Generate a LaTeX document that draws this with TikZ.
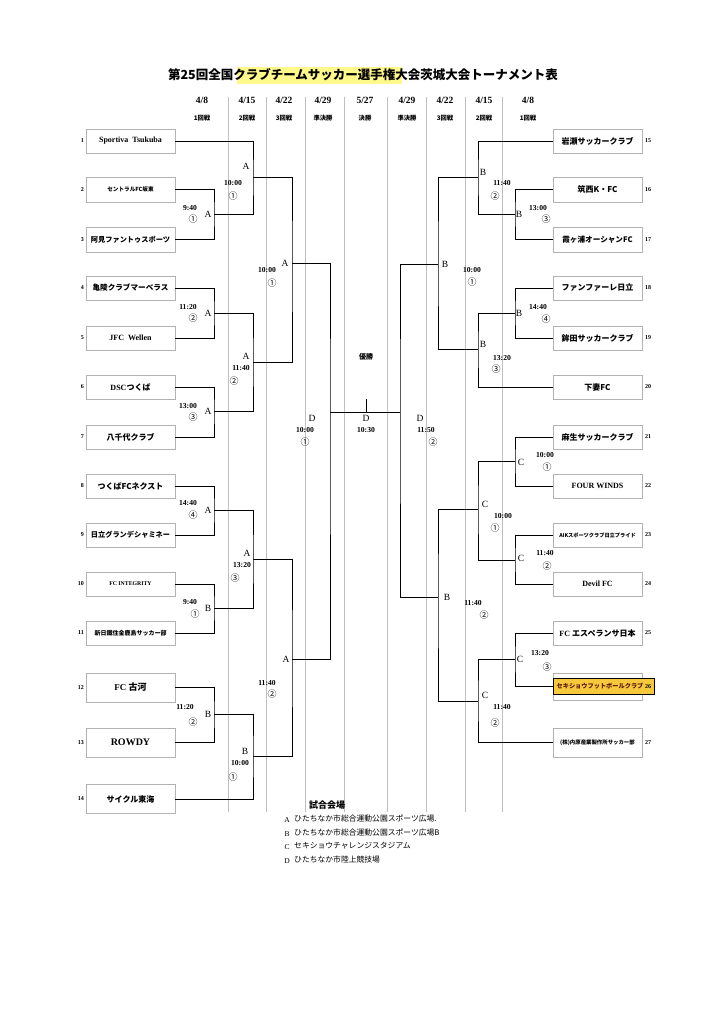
\documentclass[tikz,border=0pt]{standalone}
\usepackage{fontspec}
\setmainfont{Liberation Serif}
\newfontfamily\cjk{Noto Sans CJK JP}
\newcommand\J[1]{{\cjk #1}}
\begin{document}
\begin{tikzpicture}[x=1pt,y=-1pt,
  team/.style={draw=gray!60, line width=0.5pt, minimum width=89pt, minimum height=24.5pt, inner sep=0pt, fill=white, font=\fontsize{8}{9}\selectfont\bfseries},
  tall/.style={minimum height=29pt},
  conn/.style={line width=0.85pt, black},
  sepline/.style={draw=gray!50, line width=0.6pt},
  tm/.style={font=\fontsize{7.6}{8}\selectfont\bfseries, inner sep=0pt},
  ci/.style={font=\cjk\fontsize{9}{9}\selectfont, inner sep=0pt},
  lt/.style={font=\fontsize{9.5}{10}\selectfont, inner sep=0pt},
  num/.style={font=\fontsize{6}{6}\selectfont\bfseries, inner sep=0pt},
  date/.style={font=\fontsize{9.5}{10}\selectfont\bfseries, inner sep=0pt},
  rnd/.style={font=\cjk\fontsize{6.3}{7}\selectfont\bfseries, inner sep=0pt},
  leg/.style={font=\cjk\fontsize{7.8}{8}\selectfont, inner sep=0pt, anchor=west},
  legl/.style={font=\fontsize{7.5}{8}\selectfont, inner sep=0pt}
]
\useasboundingbox (0,0) rectangle (720,1018);
\fill[white] (0,0) rectangle (720,1018);

% title
\fill[yellow!45] (237,67) rectangle (402,84);
\node[inner sep=0pt, font=\cjk\fontsize{12.5}{13}\selectfont\bfseries] (title) at (363,75) {第25回全国クラブチームサッカー選手権大会茨城大会トーナメント表};

% column separators
\foreach \x in {228,266,305,344,387,426,465,502} \draw[sepline] (\x,97) -- (\x,812);

% header
\node[date] (d1) at (202,100) {4/8};
\node[date] (d2) at (247,100) {4/15};
\node[date] (d3) at (284,100) {4/22};
\node[date] (d4) at (323,100) {4/29};
\node[date] (d5) at (365,100) {5/27};
\node[date] (d6) at (407,100) {4/29};
\node[date] (d7) at (445,100) {4/22};
\node[date] (d8) at (484,100) {4/15};
\node[date] (d9) at (528,100) {4/8};
\node[rnd] (r1) at (202,118) {1回戦};
\node[rnd] (r2) at (247,118) {2回戦};
\node[rnd] (r3) at (284,118) {3回戦};
\node[rnd] (r4) at (323,118) {準決勝};
\node[rnd] (r5) at (365,118) {決勝};
\node[rnd] (r6) at (407,118) {準決勝};
\node[rnd] (r7) at (445,118) {3回戦};
\node[rnd] (r8) at (484,118) {2回戦};
\node[rnd] (r9) at (528,118) {1回戦};

% left teams
\node[team] (t1) at (130.5,141) {Sportiva\ \ Tsukuba};
\node[team] (t2) at (130.5,189.5) {\J{\fontsize{5.6}{6}\selectfont セントラルFC坂東}};
\node[team] (t3) at (130.5,239.5) {\J{\fontsize{7.2}{8}\selectfont 阿見ファントゥスポーツ}};
\node[team] (t4) at (130.5,288) {\J{\fontsize{7.6}{8}\selectfont 亀陵クラブマーベラス}};
\node[team] (t5) at (130.5,338) {JFC\ \ Wellen};
\node[team] (t6) at (130.5,387) {DSC\J{つくば}};
\node[team] (t7) at (130.5,437) {\J{八千代クラブ}};
\node[team] (t8) at (130.5,486) {\J{つくばFCネクスト}};
\node[team] (t9) at (130.5,535) {\J{\fontsize{7.2}{8}\selectfont 日立グランデシャミネー}};
\node[team] (t10) at (130.5,584) {\fontsize{5.8}{6}\selectfont FC INTEGRITY};
\node[team] (t11) at (130.5,633) {\J{\fontsize{6}{6}\selectfont 新日鐵住金鹿島サッカー部}};
\node[team,tall] (t12) at (130.5,687.5) {\fontsize{9}{9}\selectfont FC \J{古河}};
\node[team,tall] (t13) at (130.5,742.5) {\fontsize{10}{10}\selectfont ROWDY};
\node[team,tall] (t14) at (130.5,799) {\J{サイクル東海}};
\foreach \i/\y in {1/141,2/189.5,3/239.5,4/288,5/338,6/387,7/437,8/486,9/535,10/584,11/633,12/687.5,13/742.5,14/799}
  \node[num,anchor=east] (n\i) at (84,\y) {\i};

% right teams
\node[team] (t15) at (597.5,141) {\J{岩瀬サッカークラブ}};
\node[team] (t16) at (597.5,189.5) {\J{筑西K・FC}};
\node[team] (t17) at (597.5,239.5) {\J{\fontsize{7.6}{8}\selectfont 霞ヶ浦オーシャンFC}};
\node[team] (t18) at (597.5,288) {\J{ファンファーレ日立}};
\node[team] (t19) at (597.5,338) {\J{鉾田サッカークラブ}};
\node[team] (t20) at (597.5,387) {\J{下妻FC}};
\node[team] (t21) at (597.5,437) {\J{麻生サッカークラブ}};
\node[team] (t22) at (597.5,486) {FOUR WINDS};
\node[team] (t23) at (597.5,535) {\J{\fontsize{5.2}{6}\selectfont AIKスポーツクラブ日立プライド}};
\node[team] (t24) at (597.5,584) {Devil FC};
\node[team] (t25) at (597.5,633) {FC \J{エスペランサ日本}};
\node[team,minimum height=27pt] (t26) at (597.5,686.5) {};
\node[team,tall] (t27) at (597.5,742.5) {\J{\fontsize{5.4}{6}\selectfont (株)内原産業製作所サッカー部}};
\node[draw=black, line width=1.3pt, fill={rgb,255:red,246;green,200;blue,60}, minimum width=101pt, minimum height=16pt, inner sep=0pt] (hl) at (604,686.5) {};
\node[inner sep=0pt, text={rgb,255:red,90;green,25;blue,10}, font=\cjk\fontsize{6.2}{7}\selectfont\bfseries] (hlt) at (600,686.5) {セキショウフットボールクラブ};
\foreach \i/\y in {15/141,16/189.5,17/239.5,18/288,19/338,20/387,21/437,22/486,23/535,24/584,25/633,26/686.5,27/742.5}
  \node[num,anchor=west] (n\i) at (645,\y) {\i};

% junctions
\coordinate (L1a) at (214,214);
\coordinate (L1b) at (214,313);
\coordinate (L1c) at (214,411);
\coordinate (L1d) at (214,510);
\coordinate (L1e) at (214,608);
\coordinate (L1f) at (214,714);
\coordinate (L2a) at (253,177);
\coordinate (L2b) at (253,362);
\coordinate (L2c) at (253,559);
\coordinate (L2d) at (253,756);
\coordinate (L3a) at (292,263);
\coordinate (L3b) at (292,659);
\coordinate (LS) at (330,412);
\coordinate (RS) at (400,412);
\coordinate (FIN) at (366,412);
\coordinate (CH) at (366,399);
\coordinate (R1a) at (515,214);
\coordinate (R1b) at (515,313);
\coordinate (R1c) at (515,461);
\coordinate (R1d) at (515,560);
\coordinate (R1e) at (515,659);
\coordinate (R2a) at (478,177);
\coordinate (R2b) at (478,349);
\coordinate (R2c) at (478,509);
\coordinate (R2d) at (478,701);
\coordinate (R3a) at (438,264);
\coordinate (R3b) at (438,597);

% connectors left
\draw[conn] (t2.east) -| (L1a) |- (t3.east);
\draw[conn] (t4.east) -| (L1b) |- (t5.east);
\draw[conn] (t6.east) -| (L1c) |- (t7.east);
\draw[conn] (t8.east) -| (L1d) |- (t9.east);
\draw[conn] (t10.east) -| (L1e) |- (t11.east);
\draw[conn] (t12.east) -| (L1f) |- (t13.east);
\draw[conn] (t1.east) -| (L2a) |- (L1a);
\draw[conn] (L1b) -| (L2b) |- (L1c);
\draw[conn] (L1d) -| (L2c) |- (L1e);
\draw[conn] (L1f) -| (L2d) |- (t14.east);
\draw[conn] (L2a) -| (L3a) |- (L2b);
\draw[conn] (L2c) -| (L3b) |- (L2d);
\draw[conn] (L3a) -| (LS) |- (L3b);
\draw[conn] (LS) -- (RS);
\draw[conn] (FIN) -- (CH);
% connectors right
\draw[conn] (t16.west) -| (R1a) |- (t17.west);
\draw[conn] (t18.west) -| (R1b) |- (t19.west);
\draw[conn] (t21.west) -| (R1c) |- (t22.west);
\draw[conn] (t23.west) -| (R1d) |- (t24.west);
\draw[conn] (t25.west) -| (R1e) |- (hl.west);
\draw[conn] (t15.west) -| (R2a) |- (R1a);
\draw[conn] (R1b) -| (R2b) |- (t20.west);
\draw[conn] (R1c) -| (R2c) |- (R1d);
\draw[conn] (R1e) -| (R2d) |- (t27.west);
\draw[conn] (R2a) -| (R3a) |- (R2b);
\draw[conn] (R2c) -| (R3b) |- (R2d);
\draw[conn] (R3a) -| (RS) |- (R3b);

% labels left
\node[tm] (a1) at (190,208) {9:40}; \node[ci] (b1) at (193,219) {①}; \node[lt] (c1) at (208,214) {A};
\node[tm] (a2) at (188,307) {11:20}; \node[ci] (b2) at (193,318) {②}; \node[lt] (c2) at (208,313) {A};
\node[tm] (a3) at (188,406) {13:00}; \node[ci] (b3) at (193,417) {③}; \node[lt] (c3) at (208,411) {A};
\node[tm] (a4) at (188,503) {14:40}; \node[ci] (b4) at (193,515) {④}; \node[lt] (c4) at (208,510) {A};
\node[tm] (a5) at (190,602) {9:40}; \node[ci] (b5) at (195,614) {①}; \node[lt] (c5) at (208,608) {B};
\node[tm] (a6) at (185,707) {11:20}; \node[ci] (b6) at (193,722) {②}; \node[lt] (c6) at (208,714) {B};
\node[lt] (c7) at (246,166) {A}; \node[tm] (a7) at (233,183) {10:00}; \node[ci] (b7) at (233,196) {①};
\node[lt] (c8) at (246,356) {A}; \node[tm] (a8) at (241,368) {11:40}; \node[ci] (b8) at (234,381) {②};
\node[lt] (c9) at (247,553) {A}; \node[tm] (a9) at (242,565) {13:20}; \node[ci] (b9) at (235,578) {③};
\node[lt] (c10) at (245,751) {B}; \node[tm] (a10) at (240,763) {10:00}; \node[ci] (b10) at (233,777) {①};
\node[lt] (c11) at (285,263) {A}; \node[tm] (a11) at (267,270) {10:00}; \node[ci] (b11) at (272,283) {①};
\node[lt] (c12) at (286,659) {A}; \node[tm] (a12) at (267,683) {11:40}; \node[ci] (b12) at (272,694) {②};
\node[lt] (c13) at (312,418) {D}; \node[tm] (a13) at (305,430) {10:00}; \node[ci] (b13) at (305,442) {①};
% final
\node[inner sep=0pt, font=\cjk\fontsize{7}{7}\selectfont\bfseries] (win) at (366,357) {優勝};
\node[lt] (c14) at (366,418) {D}; \node[tm] (a14) at (366,430) {10:30};
\node[lt] (c15) at (420,418) {D}; \node[tm] (a15) at (426,430) {11:50}; \node[ci] (b15) at (433,442) {②};
% labels right
\node[lt] (c16) at (445,264) {B}; \node[tm] (a16) at (472,270) {10:00}; \node[ci] (b16) at (472,282) {①};
\node[lt] (c17) at (447,597) {B}; \node[tm] (a17) at (473,603) {11:40}; \node[ci] (b17) at (484,615) {②};
\node[lt] (c18) at (483,172) {B}; \node[tm] (a18) at (502,183) {11:40}; \node[ci] (b18) at (495,196) {②};
\node[lt] (c19) at (483,344) {B}; \node[tm] (a19) at (502,358) {13:20}; \node[ci] (b19) at (496,369) {③};
\node[lt] (c20) at (485,504) {C}; \node[tm] (a20) at (503,516) {10:00}; \node[ci] (b20) at (495,528) {①};
\node[lt] (c21) at (485,695) {C}; \node[tm] (a21) at (502,707) {11:40}; \node[ci] (b21) at (495,723) {②};
\node[lt] (c22) at (519,214) {B}; \node[tm] (a22) at (538,208) {13:00}; \node[ci] (b22) at (546,219) {③};
\node[lt] (c23) at (519,313) {B}; \node[tm] (a23) at (538,307) {14:40}; \node[ci] (b23) at (546,319) {④};
\node[lt] (c24) at (521,462) {C}; \node[tm] (a24) at (545,455) {10:00}; \node[ci] (b24) at (547,467) {①};
\node[lt] (c25) at (521,558) {C}; \node[tm] (a25) at (545,553) {11:40}; \node[ci] (b25) at (547,566) {②};
\node[lt] (c26) at (520,659) {C}; \node[tm] (a26) at (540,653) {13:20}; \node[ci] (b26) at (547,667) {③};

% legend
\node[inner sep=0pt, font=\cjk\fontsize{9}{9}\selectfont\bfseries] (lh) at (327,805) {試合会場};
\node[legl] (lA) at (287,820) {A}; \node[leg] (lAt) at (294,819) {ひたちなか市総合運動公園スポーツ広場.};
\node[legl] (lB) at (287,834) {B}; \node[leg] (lBt) at (294,833) {ひたちなか市総合運動公園スポーツ広場B};
\node[legl] (lC) at (287,847) {C}; \node[leg] (lCt) at (294,846) {セキショウチャレンジスタジアム};
\node[legl] (lD) at (287,861) {D}; \node[leg] (lDt) at (294,860) {ひたちなか市陸上競技場};
\end{tikzpicture}
\end{document}
